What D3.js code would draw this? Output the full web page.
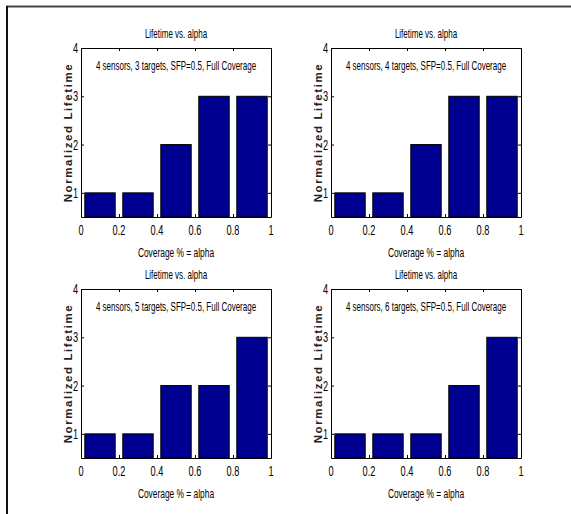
<!DOCTYPE html>
<html>
<head>
<meta charset="utf-8">
<script src="https://cdn.jsdelivr.net/npm/d3@7"></script>
<style>
body { margin: 0; background: #fff; overflow: hidden; }
text { font-family: "Liberation Sans", Arial, sans-serif; fill: #000; }
</style>
</head>
<body>
<svg width="571" height="514"></svg>
<script>
// bar centres (alpha) and heights for each panel
const alphaCenters = [0.1, 0.3, 0.5, 0.7, 0.9];
const lifetime3 = [1, 1, 2, 3, 3];
const lifetime4 = [1, 1, 2, 3, 3];
const lifetime5 = [1, 1, 2, 2, 3];
const lifetime6 = [1, 1, 1, 2, 3];
const targetCounts = [3, 4, 5, 6];
const xTicks = [0, 0.2, 0.4, 0.6, 0.8, 1];
const xTickLabels = ['0', '0.2', '0.4', '0.6', '0.8', '1'];
const yTicks = [1, 2, 3, 4];
const titleText = 'Lifetime vs. alpha';
const xLabelText = 'Coverage % = alpha';
const yLabelText = 'Normalized Lifetime';

const series = [lifetime3, lifetime4, lifetime5, lifetime6];
const lefts = [81, 331, 81, 331];
const tops = [48, 48, 289, 289];
const pw = 190, ph = 169;
const barColor = '#000090';

const svg = d3.select('svg');

// outer frame (top and left only)
svg.append('line').attr('x1', 6).attr('x2', 571).attr('y1', 6.5).attr('y2', 6.5)
  .attr('stroke', '#444').attr('stroke-width', 2);
svg.append('line').attr('x1', 7).attr('x2', 7).attr('y1', 6).attr('y2', 514)
  .attr('stroke', '#111').attr('stroke-width', 2);

// narrow, tall text like the original raster
function tallText(parent, x, y, str, anchor, size) {
  parent.append('g')
    .attr('transform', `translate(${x},${y}) scale(0.8,1.25)`)
    .append('text')
    .attr('text-anchor', anchor)
    .attr('dy', '0.36em')
    .style('font-size', size + 'px')
    .text(str);
}

series.forEach((vals, p) => {
  const g = svg.append('g').attr('transform', `translate(${lefts[p]},${tops[p]})`);
  const x = d3.scaleLinear().domain([0, 1]).range([0, pw]);
  const y = d3.scaleLinear().domain([0.5, 4]).range([ph, 0]);
  const bw = x(0.16) - x(0);

  g.selectAll('rect.bar')
    .data(alphaCenters.map((a, i) => ({ a: a, v: vals[i] })))
    .join('rect')
    .attr('class', 'bar')
    .attr('x', d => x(d.a) - bw / 2)
    .attr('y', d => y(d.v))
    .attr('width', bw)
    .attr('height', d => y(0.5) - y(d.v))
    .attr('fill', barColor)
    .attr('stroke', '#000')
    .attr('stroke-width', 1);

  // four-sided box with inward ticks
  const axes = [
    [d3.axisBottom(x).tickValues(xTicks), `translate(0,${ph})`],
    [d3.axisTop(x).tickValues(xTicks), 'translate(0,0)'],
    [d3.axisLeft(y).tickValues(yTicks), 'translate(0,0)'],
    [d3.axisRight(y).tickValues(yTicks), `translate(${pw},0)`]
  ];
  axes.forEach(([ax, tr]) => {
    const a = g.append('g').attr('transform', tr)
      .call(ax.tickSize(-3).tickSizeOuter(0).tickFormat(''));
    a.select('.domain').attr('stroke', '#000');
    a.selectAll('.tick line').attr('stroke', '#000');
  });

  xTicks.forEach((t, i) => tallText(g, x(t), ph + 13, xTickLabels[i], 'middle', 11.5));
  yTicks.forEach(t => tallText(g, -3, y(t), String(t), 'end', 11.5));

  tallText(g, pw / 2, -15, titleText, 'middle', 10);
  tallText(g, pw / 2, 17, `4 sensors, ${targetCounts[p]} targets, SFP=0.5, Full Coverage`, 'middle', 10);
  tallText(g, pw / 2, ph + 35, xLabelText, 'middle', 10.5);

  g.append('text')
    .attr('transform', `translate(-13,${ph / 2}) rotate(-90)`)
    .attr('text-anchor', 'middle')
    .attr('dy', '0.36em')
    .style('font-size', '11.5px')
    .style('font-weight', 'bold')
    .style('letter-spacing', '1.6px')
    .style('fill', '#222')
    .text(yLabelText);
});
</script>
</body>
</html>
